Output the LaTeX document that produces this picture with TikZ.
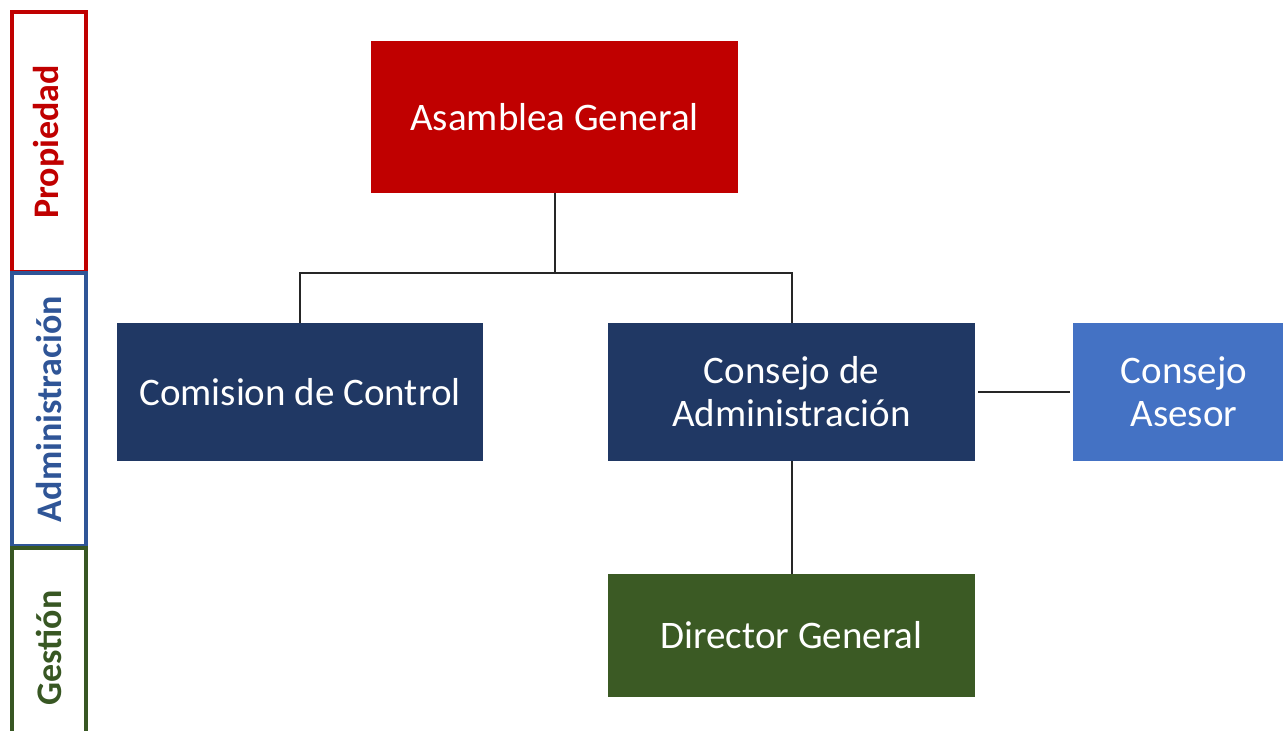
\documentclass[tikz,border=0pt]{standalone}
\usepackage{fontspec}
\setmainfont{Carlito}
\definecolor{rojo}{HTML}{C00000}
\definecolor{marino}{HTML}{203864}
\definecolor{azul}{HTML}{4472C4}
\definecolor{verde}{HTML}{3B5A24}
\definecolor{azulborde}{HTML}{2F5597}
\definecolor{verdeborde}{HTML}{385723}

\begin{document}
\begin{tikzpicture}[x=1pt, y=-1pt,
  organo/.style = {shape=rectangle, align=center, text=white,
    inner sep=0pt, font=\fontsize{39}{43}\selectfont},
  nivel/.style = {shape=rectangle, draw=#1, line width=4pt, fill=white,
    text=#1, rotate=90, minimum height=74pt, inner sep=0pt,
    font=\fontsize{36}{40}\selectfont\bfseries},
  linea/.style = {line width=2pt, black!85}]
  \useasboundingbox (0,0) rectangle (1283,731);
  % niveles
  \node[nivel=rojo, minimum width=260pt] (propiedad) at (49,142) {Propiedad};
  \node[nivel=azulborde, minimum width=273pt] (admin) at (49,409) {Administración};
  \node[nivel=verdeborde, minimum width=200pt] (gestion) at (49,648) {Gestión};
  % organos
  \node[organo, fill=rojo, minimum width=367pt, minimum height=152pt] (asamblea) at (554.5,117) {Asamblea General};
  \node[organo, fill=marino, minimum width=366pt, minimum height=138pt] (comision) at (300,392) {Comision de Control};
  \node[organo, fill=marino, minimum width=367pt, minimum height=138pt] (consejo) at (791.5,392) {Consejo de\\Administración};
  \node[organo, fill=azul, minimum width=222pt, minimum height=138pt] (asesor) at (1184,392) {Consejo\\Asesor};
  \node[organo, fill=verde, minimum width=367pt, minimum height=123pt] (director) at (791.5,635.5) {Director General};
  % conexiones
  \coordinate (bus) at (554.5,273);
  \draw[linea] (asamblea.south) -- (bus);
  \draw[linea] (comision.north) |- (bus) -| (consejo.north);
  \draw[linea, shorten <=3pt, shorten >=3pt] (consejo.east) -- (asesor.west);
  \draw[linea] (consejo.south) -- (director.north);
\end{tikzpicture}
\end{document}
